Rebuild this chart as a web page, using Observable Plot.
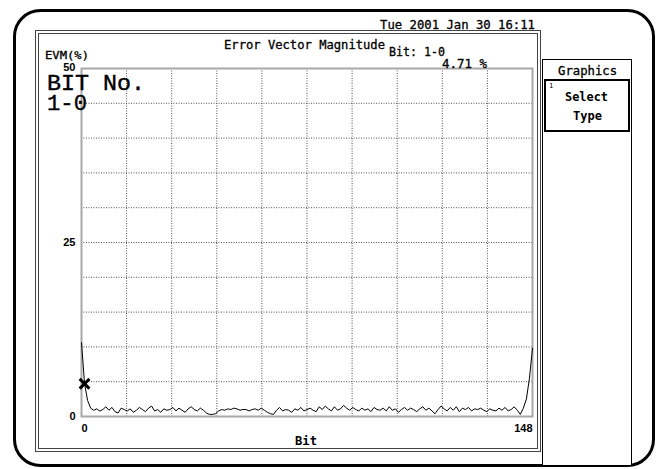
<!DOCTYPE html>
<html><head><meta charset="utf-8">
<script src="https://cdn.jsdelivr.net/npm/d3@7"></script>
<script src="https://cdn.jsdelivr.net/npm/@observablehq/plot@0.6"></script>
<style>
html,body{margin:0;padding:0;background:#fff;}
#wrap{position:relative;width:659px;height:469px;overflow:hidden;background:#fff;}
#wrap > svg{position:absolute;left:0;top:0;}
</style></head><body><div id="wrap"></div>
<script>
// EVM (%) per bit, bit 0..148
const evm = [
  10.6, 4.71, 2.3, 1.2, 0.9, 1.1, 0.8, 1.0, 1.4, 0.9,
  1.3, 0.7, 0.5, 1.2, 1.0, 0.8, 1.1, 0.6, 0.9, 1.3,
  1.0, 0.7, 1.2, 1.5, 0.8, 1.0, 0.6, 1.1, 0.9, 1.0,
  1.3, 0.8, 1.2, 0.9, 0.6, 1.1, 1.4, 1.0, 0.8, 1.2,
  0.9, 0.5, 0.3, 0.3, 0.4, 0.8, 1.0, 0.9, 1.1, 1.0,
  1.2, 1.1, 0.9, 1.0, 1.0, 0.8, 1.0, 1.1, 0.9, 1.2,
  0.9, 0.6, 0.4, 0.3, 0.9, 1.3, 0.8, 1.0, 0.9, 0.6,
  1.1, 0.9, 1.3, 0.8, 1.0, 1.2, 0.9, 0.7, 1.4, 1.0,
  1.5, 1.1, 0.8, 1.4, 0.9, 1.1, 1.6, 1.2, 0.9, 1.3,
  1.0, 0.8, 1.2, 0.9, 1.1, 0.7, 1.3, 1.0, 0.9, 1.2,
  0.8, 1.4, 0.9, 1.1, 0.6, 1.0, 1.3, 0.9, 1.2, 1.0,
  0.7, 1.1, 1.4, 0.9, 1.2, 0.8, 0.4, 1.0, 1.5, 1.1,
  0.8, 1.3, 0.9, 1.4, 0.7, 1.2, 1.0, 1.3, 0.8, 1.1,
  1.0, 1.2, 0.9, 0.7, 1.1, 0.9, 0.8, 1.2, 0.9, 1.3,
  0.8, 1.0, 1.4, 0.9, 0.3, 1.2, 2.5, 5.5, 9.8
];
const markerBit = 1;
const markerValue = 4.71;
const yTicksLow = [0, 25];
const yTickTop = [50];
const xTickStart = [0];
const xTickEnd = [148];
const gridXTicks = [14.8, 29.6, 44.4, 59.2, 74, 88.8, 103.6, 118.4, 133.2];
const gridYTicks = [5, 10, 15, 20, 25, 30, 35, 40, 45];

const data = evm.map((v, i) => ({bit: i, evm: v}));
const tickFont = {fontFamily: "'Liberation Sans', Arial, sans-serif", fontWeight: "bold", fontSize: 11};

const chart = Plot.plot({
  width: 659, height: 469,
  marginTop: 68, marginRight: 127, marginBottom: 53, marginLeft: 81,
  x: {domain: [0, 148]},
  y: {domain: [0, 50]},
  style: {background: "transparent", color: "#000"},
  marks: [
    Plot.gridX(gridXTicks, {stroke: "#555", strokeOpacity: 1, strokeDasharray: "1,1.5"}),
    Plot.gridY(gridYTicks, {stroke: "#555", strokeOpacity: 1, strokeDasharray: "1,1.5"}),
    Plot.frame({stroke: "#a8a8a8", strokeWidth: 2}),
    Plot.lineY(data, {x: "bit", y: "evm", stroke: "#000", strokeWidth: 1}),
    Plot.dot([{bit: markerBit, evm: markerValue}], {x: "bit", y: "evm", symbol: "times", r: 4.5, stroke: "#000", strokeWidth: 3}),
    Plot.axisY(yTicksLow, {tickSize: 0, tickPadding: 6, label: null, ...tickFont}),
    Plot.axisY(yTickTop, {tickSize: 0, tickPadding: 6, label: null, dy: -1, ...tickFont}),
    Plot.axisX(xTickStart, {tickSize: 0, tickPadding: 8, label: null, textAnchor: "start", ...tickFont}),
    Plot.axisX(xTickEnd, {tickSize: 0, tickPadding: 8, label: null, textAnchor: "end", ...tickFont})
  ]
});
document.getElementById("wrap").appendChild(chart);

// decorative instrument-screen overlay
const ov = d3.select("#wrap").append("svg")
  .attr("width", 659).attr("height", 469)
  .style("pointer-events", "none");

ov.append("rect").attr("x", 14.5).attr("y", 10.5).attr("width", 639).attr("height", 455)
  .attr("rx", 26).attr("fill", "none").attr("stroke", "#000").attr("stroke-width", 3);
ov.append("rect").attr("x", 35.5).attr("y", 30.5).attr("width", 505).attr("height", 421)
  .attr("fill", "none").attr("stroke", "#444").attr("stroke-width", 1);
ov.append("rect").attr("x", 38.5).attr("y", 33.5).attr("width", 499).attr("height", 415)
  .attr("fill", "none").attr("stroke", "#444").attr("stroke-width", 1);
// right panel
ov.append("rect").attr("x", 542.5).attr("y", 59.5).attr("width", 89).attr("height", 406)
  .attr("fill", "#fff").attr("stroke", "#000").attr("stroke-width", 1);
ov.append("rect").attr("x", 545).attr("y", 80).attr("width", 84).attr("height", 51)
  .attr("fill", "none").attr("stroke", "#000").attr("stroke-width", 2);

const mono = "'DejaVu Sans Mono', 'Liberation Mono', monospace";
function txt(s, x, y, len, opts = {}) {
  const t = ov.append("text").attr("x", x).attr("y", y).text(s)
    .attr("font-family", opts.family || mono)
    .attr("font-size", opts.size || 12)
    .attr("font-weight", opts.weight || "normal")
    .attr("fill", "#000")
    .attr("stroke", "#000")
    .attr("stroke-width", opts.sw != null ? opts.sw : 0.3);
  if (len) t.attr("textLength", len).attr("lengthAdjust", "spacingAndGlyphs");
  return t;
}
txt("Tue 2001 Jan 30 16:11", 380, 28.5, 155);
txt("Error Vector Magnitude", 224, 48.5, 161);
txt("Bit: 1-0", 389, 55.5, 56);
txt("4.71 %", 442, 67.5, 45);
txt("EVM(%)", 45, 58.5, 44, {size: 11});
txt("BIT No.", 47, 90, 98, {family: "'Liberation Mono', monospace", size: 22, sw: 0.4});
txt("1-0", 47, 110, 40, {family: "'Liberation Mono', monospace", size: 22, sw: 0.4});
txt("Bit", 295, 445, 22, {weight: "bold", sw: 0});
txt("Graphics", 558, 75, 59);
txt("1", 549, 88, null, {size: 7, sw: 0});
txt("Select", 565, 101, 43, {weight: "bold", sw: 0});
txt("Type", 573, 120, 29, {weight: "bold", sw: 0});
</script>
</body></html>
